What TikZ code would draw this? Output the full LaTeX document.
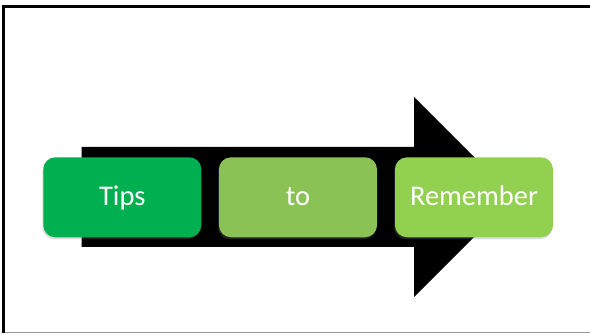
\documentclass[tikz,border=0pt]{standalone}
\usepackage{fontspec}
\setmainfont{Carlito}
\usetikzlibrary{shadows}
\definecolor{gA}{HTML}{00B050}
\definecolor{gB}{HTML}{8BC256}
\definecolor{gC}{HTML}{92D050}
\tikzset{
  tipbox/.style={rounded corners=12pt, minimum width=158pt, minimum height=80pt, inner sep=0pt,
    text=white, font=\fontsize{28.5}{31}\selectfont, text height=17.6pt, text depth=1pt,
    drop shadow={shadow xshift=-1pt, shadow yshift=-2pt, opacity=0.25}}
}
\begin{document}
\begin{tikzpicture}[x=1pt,y=1pt]
\useasboundingbox (0,0) rectangle (590,335);
% frame
\fill[black] (1.7,327) rectangle (590,330);
\fill[black] (1.7,2) rectangle (4.7,330);
\draw[gray!80, line width=1.5pt] (4.7,2.3) -- (590,2.3);
% arrow
\fill[black] (81.7,188) -- (414,188) -- (414,238) -- (514,138) -- (414,38) -- (414,88) -- (81.7,88) -- cycle;
% boxes
\node[tipbox, fill=gA] (tips) at (122.3,137.7) {Tips};
\node[tipbox, fill=gB] (to) at (298,137.7) {to};
\node[tipbox, fill=gC] (rem) at (474,137.7) {Remember};
\end{tikzpicture}
\end{document}
